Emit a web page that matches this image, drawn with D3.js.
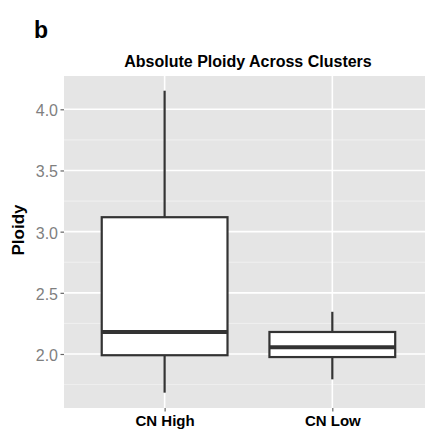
<!DOCTYPE html>
<html>
<head>
<meta charset="utf-8">
<script src="https://cdn.jsdelivr.net/npm/d3@7"></script>
<style>
  body { margin: 0; background: #fff; }
  svg { display: block; font-family: "Liberation Sans", Arial, sans-serif; }
</style>
</head>
<body>
<svg id="chart" width="425" height="439"></svg>
<script>
// data
const clusters = ["CN High", "CN Low"];
const whiskerLow = [1.684, 1.793];
const boxLow = [1.99, 1.975];
const medians = [2.18, 2.055];
const boxHigh = [3.118, 2.18];
const whiskerHigh = [4.152, 2.345];
const yTicks = [2.0, 2.5, 3.0, 3.5, 4.0];
const yMinor = [1.75, 2.25, 2.75, 3.25, 3.75];

const svg = d3.select("#chart");
const panel = { left: 64, top: 76, bottom: 408 };
const step = 167.7;

const x = d3.scaleLinear().domain([0.4, 2.6]).range([panel.left, panel.left + 2.2 * step]);
const y = d3.scaleLinear().domain([2.0, 4.0]).range([354, 109.3]);

// panel background
svg.append("rect")
  .attr("x", panel.left).attr("y", panel.top)
  .attr("width", x(2.6) - x(0.4)).attr("height", panel.bottom - panel.top)
  .attr("fill", "#e5e5e5");

// grid
svg.selectAll(".minor").data(yMinor).join("line")
  .attr("x1", x(0.4)).attr("x2", x(2.6))
  .attr("y1", d => y(d)).attr("y2", d => y(d))
  .attr("stroke", "#f2f2f2").attr("stroke-width", 0.8);
svg.selectAll(".major").data(yTicks).join("line")
  .attr("x1", x(0.4)).attr("x2", x(2.6))
  .attr("y1", d => y(d)).attr("y2", d => y(d))
  .attr("stroke", "#fff").attr("stroke-width", 1.6);
svg.selectAll(".vmajor").data(clusters).join("line")
  .attr("x1", (d, i) => x(i + 1)).attr("x2", (d, i) => x(i + 1))
  .attr("y1", panel.top).attr("y2", panel.bottom)
  .attr("stroke", "#fff").attr("stroke-width", 1.6);

// boxes
const half = 0.375;
const g = svg.append("g");
clusters.forEach((c, i) => {
  const cx = x(i + 1);
  const ink = "#333333";
  g.append("line").attr("x1", cx).attr("x2", cx)
    .attr("y1", y(boxHigh[i])).attr("y2", y(whiskerHigh[i]))
    .attr("stroke", ink).attr("stroke-width", 2.2);
  g.append("line").attr("x1", cx).attr("x2", cx)
    .attr("y1", y(boxLow[i])).attr("y2", y(whiskerLow[i]))
    .attr("stroke", ink).attr("stroke-width", 2.2);
  g.append("rect")
    .attr("x", x(i + 1 - half)).attr("width", x(i + 1 + half) - x(i + 1 - half))
    .attr("y", y(boxHigh[i])).attr("height", y(boxLow[i]) - y(boxHigh[i]))
    .attr("fill", "#fff").attr("stroke", ink).attr("stroke-width", 2.2);
  g.append("line")
    .attr("x1", x(i + 1 - half)).attr("x2", x(i + 1 + half))
    .attr("y1", y(medians[i])).attr("y2", y(medians[i]))
    .attr("stroke", ink).attr("stroke-width", 4.2);
});

// y axis
const yAxis = svg.append("g").attr("transform", `translate(${panel.left},0)`)
  .call(d3.axisLeft(y).tickValues(yTicks).tickFormat(d3.format(".1f")).tickSize(3.5).tickPadding(2.5));
yAxis.select(".domain").remove();
yAxis.selectAll(".tick line").attr("stroke", "#666").attr("stroke-width", 1.2);
yAxis.selectAll(".tick text").attr("fill", "#7f7f7f").attr("font-size", 16)
  .attr("dy", "0.4em")
  .style("font-family", "Liberation Sans, Arial, sans-serif");

// x axis
const xAxis = svg.append("g").attr("transform", `translate(0,${panel.bottom})`)
  .call(d3.axisBottom(x).tickValues([1, 2]).tickFormat((d) => clusters[d - 1]).tickSize(3.5).tickPadding(4));
xAxis.select(".domain").remove();
xAxis.selectAll(".tick line").attr("stroke", "#666").attr("stroke-width", 1.2);
xAxis.selectAll(".tick text").attr("fill", "#000").attr("font-size", 15).attr("font-weight", "bold")
  .style("font-family", "Liberation Sans, Arial, sans-serif");

// labels
svg.append("text").attr("x", 34).attr("y", 37.5).text("b")
  .attr("font-size", 23).attr("font-weight", "bold");
svg.append("text").attr("x", 248).attr("y", 67).attr("text-anchor", "middle")
  .text("Absolute Ploidy Across Clusters").attr("font-size", 16).attr("font-weight", "bold");
svg.append("text").attr("transform", "translate(23.5,230) rotate(-90)").attr("text-anchor", "middle")
  .text("Ploidy").attr("font-size", 17).attr("font-weight", "bold");
</script>
</body>
</html>
